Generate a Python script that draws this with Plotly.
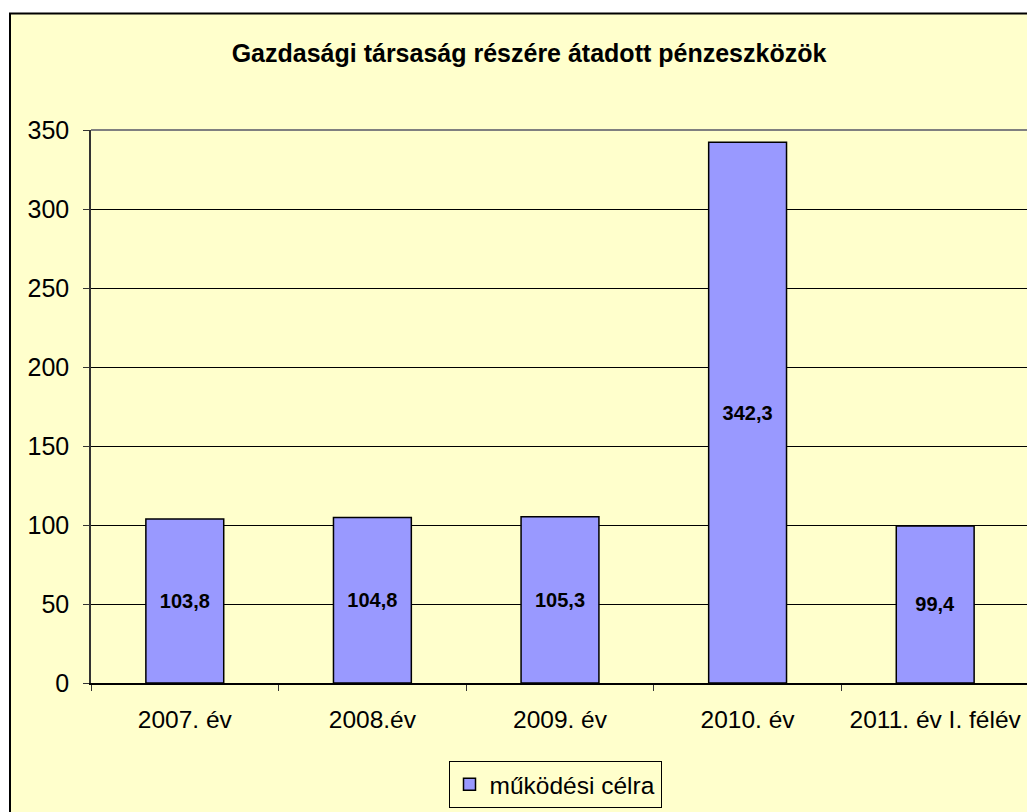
import plotly.graph_objects as go

# data
categories = ["2007. év", "2008.év", "2009. év", "2010. év", "2011. év I. félév"]
values = [103.8, 104.8, 105.3, 342.3, 99.4]
labels = [f"{v:.1f}".replace(".", ",") for v in values]
y_ticks = [0, 50, 100, 150, 200, 250, 300, 350]

font_family = "Arial, Liberation Sans, sans-serif"
bg = "#FFFFCC"

fig = go.Figure(go.Bar(
    x=categories,
    y=values,
    name="működési célra",
    text=labels,
    textposition="inside",
    insidetextanchor="middle",
    textfont=dict(family=font_family, size=20, color="black", weight="bold"),
    textangle=0,
    marker=dict(color="#9999FF", line=dict(color="black", width=1.5)),
    showlegend=True,
))

# the page body adds an 8px offset; plot area sits at page x 91..1029, y 130..685
OFF = 8
W, H = 1035, 812
L, T = 91 - OFF, 130 - OFF
R, B = W - (1029 - OFF), H - (685 - OFF)
pw, ph = W - L - R, H - T - B

def px_x(px):
    return (px - OFF - L) / pw

def px_y(py):
    return (H - B - (py - OFF)) / ph

fig.update_layout(
    width=W, height=H,
    margin=dict(l=L, r=R, t=T, b=B),
    paper_bgcolor="white",
    plot_bgcolor="rgba(0,0,0,0)",
    font=dict(family=font_family, size=25, color="black"),
    title=dict(
        text="<b>Gazdasági társaság részére átadott pénzeszközök</b>",
        font=dict(family=font_family, size=25, color="black"),
        x=(529 - OFF) / W, xref="container", xanchor="center",
        y=1 - (53 - OFF) / H, yref="container", yanchor="middle",
    ),
    bargap=0.585,
    xaxis=dict(
        showline=True, linecolor="black", linewidth=1.5,
        ticks="outside", tickson="boundaries", ticklen=6, tickcolor="#333",
        ticklabelstandoff=14,
        showgrid=False,
        tickfont=dict(size=24.5),
    ),
    yaxis=dict(
        range=[0, 350],
        tickvals=y_ticks,
        showline=True, linecolor="#333", linewidth=1.5,
        ticks="outside", ticklen=6, tickcolor="#333",
        ticklabelstandoff=9,
        showgrid=True, gridcolor="black", gridwidth=1,
        zeroline=False,
        tickfont=dict(size=25),
    ),
    legend=dict(
        orientation="h",
        x=px_x(555), xanchor="center",
        y=px_y(763), yanchor="top",
        bgcolor=bg, bordercolor="black", borderwidth=1,
        font=dict(size=24.5),
    ),
    shapes=[
        # chart background with border, cut off at right and bottom
        dict(type="rect", xref="paper", yref="paper", layer="below",
             x0=px_x(10), x1=px_x(1060), y0=px_y(840), y1=px_y(13),
             fillcolor=bg, line=dict(color="black", width=2)),
        # gray plot-area border on top and right
        dict(type="path", xref="paper", yref="paper", layer="above",
             path="M 0,1 L 1,1 L 1,0",
             line=dict(color="#808080", width=2)),
    ],
)

fig.write_html("out.html")
